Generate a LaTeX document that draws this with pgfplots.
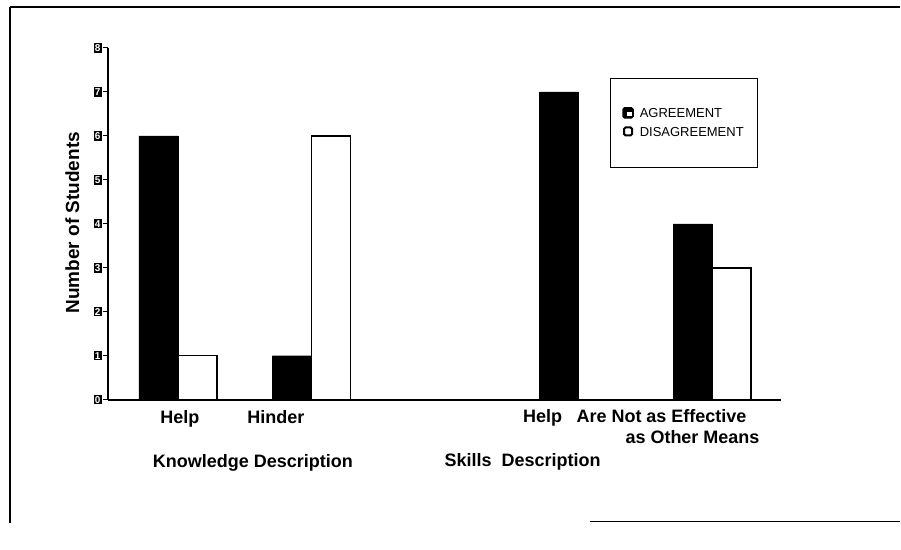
\documentclass[border=0pt]{standalone}
\usepackage{pgfplots}
\pgfplotsset{compat=1.18}
\usepackage{fontspec}
\setmainfont{Liberation Sans}
\begin{document}
\begin{tikzpicture}[x=1pt,y=1pt]
\path (0,0) rectangle (901,550);
\draw[line width=1.3pt] (10,543) -- (901,543);
\draw[line width=1.3pt] (10,543) -- (10,27);
\draw[line width=1.3pt] (590,28) -- (901,28);
\begin{axis}[
  at={(108pt,150pt)}, anchor=south west,
  scale only axis, width=674pt, height=352pt,
  xmin=-0.524, xmax=4.52, ymin=0, ymax=8,
  axis x line=bottom, axis y line=left,
  x axis line style={-, line width=2pt},
  y axis line style={-, line width=1.3pt},
  xtick=\empty, ytick={0,...,8},
  tick align=outside, major tick length=5pt,
  tick style={black, line width=1pt},
  /pgf/number format/assume math mode=true,
  yticklabel style={fill=black, text=white, font=\fontsize{10}{11}\selectfont\bfseries, inner xsep=1.2pt, inner ysep=1.2pt, xshift=-1pt},
  ylabel={Number of Students},
  ylabel style={at={(axis description cs:-0.053,0.503)}, anchor=center, font=\fontsize{19}{21}\selectfont\bfseries},
  ybar=0pt, bar width=39pt,
  legend style={at={(0.7448,0.915)}, anchor=north west, draw=black, line width=1.5pt,
    inner xsep=12pt, inner ysep=28pt, font=\fontsize{13}{15}\selectfont, row sep=4pt, column sep=4pt},
  legend cell align=left,
]
\addplot[fill=black, draw=black,
  legend image code/.code={\fill[black, rounded corners=1.5pt] (0pt,-4pt) rectangle (10pt,6pt);
    \fill[white] (5pt,-1pt) rectangle (8pt,1pt);}]
  coordinates {(0,6) (1,1) (3,7) (4,4)};
\addplot[fill=white, draw=black, line width=1.5pt,
  legend image code/.code={\draw[black, line width=2pt, fill=white, rounded corners=1.5pt] (1pt,-3pt) rectangle (9pt,5pt);}]
  coordinates {(0,1) (1,6) (4,3)};
\legend{AGREEMENT, DISAGREEMENT}
\end{axis}
\begin{scope}[every node/.style={font=\fontsize{18}{20}\selectfont\bfseries, inner sep=0pt, anchor=base}]
\node at (180,126) {Help};
\node at (276,126) {Hinder};
\node at (543,127) {Help};
\node at (662,127) {Are Not as Effective};
\node at (693,106) {as Other Means};
\node at (253,82) {Knowledge Description};
\node at (523,83) {Skills\ \ Description};
\end{scope}
\end{tikzpicture}
\end{document}
